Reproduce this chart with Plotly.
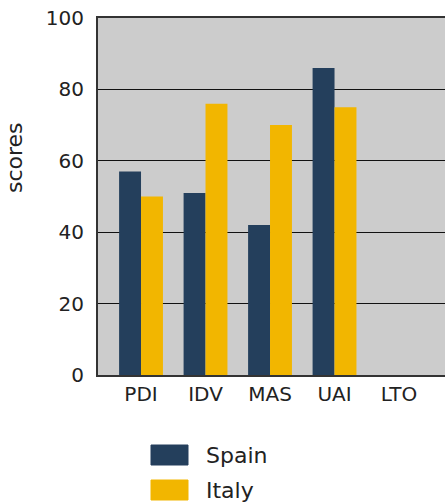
import plotly.graph_objects as go

categories = ["PDI", "IDV", "MAS", "UAI", "LTO"]
spain = [57, 51, 42, 86, None]
italy = [50, 76, 70, 75, None]
series_names = ["Spain", "Italy"]
colors = ["#243F5C", "#F2B600"]
y_ticks = [0, 20, 40, 60, 80, 100]

W, H = 452, 502
FONT = "DejaVu Sans"
L, T, B = 98, 18, 375
PW, PH = W - L, B - T
STEP = 64.5  # pixels per category
x_range = [-0.667, -0.667 + PW / STEP]

fig = go.Figure()
for name, vals, col in zip(series_names, [spain, italy], colors):
    fig.add_trace(go.Bar(x=categories, y=vals, name=name, marker_color=col,
                         marker_line_width=0, showlegend=False))

fig.update_layout(
    width=W, height=H,
    margin=dict(l=L, r=0, t=T, b=H - B),
    paper_bgcolor="white", plot_bgcolor="#CCCCCC",
    barmode="group", bargap=0.32, bargroupgap=0,
    font=dict(family=FONT, size=20, color="#222222"),
    xaxis=dict(range=x_range, showgrid=False, showline=True, mirror=True,
               linecolor="#333333", linewidth=2, ticks="", ticklabelstandoff=0,
               tickfont=dict(size=20)),
    yaxis=dict(range=[0, 100], tickvals=y_ticks, showgrid=True, gridcolor="#111111",
               gridwidth=1, showline=True, linecolor="#333333", linewidth=2,
               zeroline=False, ticks="", ticklabelstandoff=8, tickfont=dict(size=20)),
)

fig.add_annotation(text="scores", textangle=-90, xref="paper", yref="paper",
                   x=(14 - L) / PW, y=(B - 158) / PH, xanchor="center", yanchor="middle",
                   showarrow=False, font=dict(size=22))

# legend
leg_y = [455, 490]
for name, col, yc in zip(series_names, colors, leg_y):
    fig.add_shape(type="rect", xref="paper", yref="paper",
                  x0=(151 - L) / PW, x1=(188 - L) / PW,
                  y0=(B - (yc + 10)) / PH, y1=(B - (yc - 10)) / PH,
                  fillcolor=col, line=dict(color=col, width=1))
    fig.add_annotation(text=name, xref="paper", yref="paper",
                       x=(204 - L) / PW, y=(B - yc) / PH, xanchor="left", yanchor="middle",
                       showarrow=False, font=dict(size=22))

fig.write_html("out.html", config={"displayModeBar": False},
               post_script="document.body.style.margin='0';document.body.style.overflow='hidden';")
